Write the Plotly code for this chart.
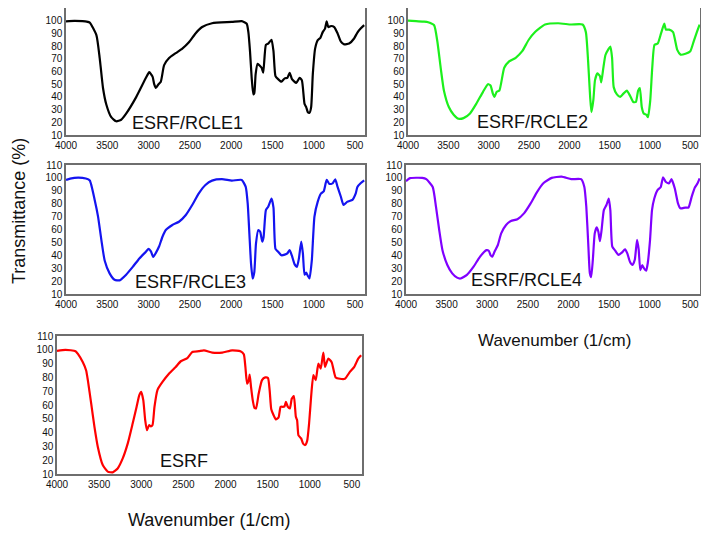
import plotly.graph_objects as go

# ---------------- data ----------------
wn_rcle1 = [4000, 3900, 3800, 3750, 3712, 3632, 3592, 3552, 3512, 3452, 3392, 3332, 3272, 3152, 3032, 2992,
            2952, 2932, 2912, 2880, 2852, 2812, 2752, 2672, 2592, 2512, 2432, 2352, 2232, 1992, 1872, 1812,
            1792, 1772, 1752, 1732, 1720, 1704, 1680, 1632, 1612, 1580, 1552, 1512, 1488, 1464, 1432, 1392,
            1352, 1320, 1292, 1264, 1212, 1172, 1144, 1112, 1092, 1072, 1052, 1032, 1012, 984, 952, 920,
            892, 864, 844, 824, 792, 752, 712, 672, 632, 572, 512, 472, 430, 390]
t_rcle1 = [99.5, 99.8, 99.6, 99.3, 98.5, 88.6, 70.6, 47, 34, 24, 20.8, 22, 26.8, 39.6, 55, 59.5,
           56, 50, 47, 50, 52, 65, 70.6, 74.4, 78, 83, 90, 95, 98, 99, 99.7, 97.6,
           91, 75.7, 55, 42, 43, 58, 66, 63, 59, 81, 82, 85, 76, 56.4, 54, 52,
           54.6, 55, 59, 54, 51, 55, 53, 34.5, 32, 28, 27.5, 32, 57.7, 78, 84.7, 86.5,
           91, 93.8, 99.4, 95, 95.8, 95, 90, 83.5, 81.4, 82, 86, 90.7, 94, 96.5]

wn_rcle2 = [4000, 3900, 3800, 3750, 3676, 3636, 3595, 3555, 3494, 3434, 3373, 3312, 3231, 3150, 3070, 3009,
            2977, 2948, 2928, 2900, 2867, 2807, 2746, 2665, 2584, 2503, 2422, 2301, 2139, 1977, 1836, 1795,
            1767, 1742, 1726, 1702, 1682, 1653, 1621, 1604, 1580, 1552, 1511, 1491, 1470, 1450, 1410, 1369,
            1329, 1288, 1248, 1207, 1175, 1147, 1126, 1102, 1078, 1045, 1025, 997, 972, 944, 904, 863,
            823, 803, 762, 714, 662, 621, 560, 500, 459, 419, 385]
t_rcle2 = [100, 99.6, 99.3, 98.8, 96.4, 83.6, 63, 45, 32, 26, 22.8, 23.3, 27, 35, 44, 50,
           49, 42.6, 40, 44, 45, 63, 68, 70.8, 76, 85, 91.3, 97, 98, 97, 97, 91,
           68, 40, 28, 37.6, 53, 58.5, 56.5, 51.5, 62, 73, 78, 79.7, 70.8, 47.7, 42, 40,
           42.6, 45, 41, 36, 36, 45, 47, 32, 27, 26, 24, 37, 63, 81, 82, 90,
           97.7, 93, 93, 91, 77, 73.3, 74, 76, 83.6, 91, 97]

wn_rcle3 = [4000, 3950, 3850, 3760, 3712, 3652, 3612, 3572, 3532, 3472, 3412, 3352, 3272, 3192, 3112, 3032,
            3000, 2972, 2944, 2912, 2872, 2832, 2792, 2712, 2632, 2552, 2472, 2392, 2312, 2232, 2112, 1992,
            1872, 1824, 1800, 1780, 1760, 1740, 1720, 1700, 1672, 1648, 1624, 1608, 1580, 1552, 1512, 1488,
            1464, 1432, 1392, 1352, 1320, 1292, 1264, 1232, 1204, 1180, 1152, 1132, 1112, 1092, 1072, 1052,
            1024, 992, 952, 912, 880, 844, 812, 772, 740, 712, 672, 640, 592, 532, 492, 472, 430, 390]
t_rcle3 = [98.5, 99.5, 100.2, 99.5, 98, 82.7, 70, 52, 36, 26, 21, 20.6, 25, 31, 37.6, 42.8,
           45, 43, 38.8, 41.9, 47, 54.4, 59.6, 63.5, 66, 71, 79, 88, 94.5, 97.9, 99, 97.9,
           98.4, 93, 80, 57, 33.8, 22, 27, 49, 59.6, 58, 50.6, 54, 75, 77.7, 84, 77,
           45, 42.8, 40, 40.5, 41.5, 44, 39.5, 33, 31, 37.6, 50.6, 41.5, 25, 26.6, 24, 22,
           36, 70, 81.6, 88, 89.5, 98.4, 95.3, 95.8, 98.9, 93, 85.4, 79, 81.6, 83, 88, 93, 96, 98]

wn_rcle4 = [4000, 3950, 3800, 3750, 3671, 3631, 3591, 3551, 3491, 3431, 3371, 3330, 3250, 3170, 3090, 3009,
            2981, 2957, 2937, 2909, 2869, 2828, 2768, 2708, 2628, 2547, 2467, 2387, 2306, 2206, 2085, 1965,
            1844, 1804, 1780, 1756, 1736, 1720, 1700, 1676, 1652, 1632, 1612, 1592, 1564, 1532, 1504, 1484,
            1460, 1424, 1384, 1343, 1303, 1275, 1243, 1211, 1183, 1155, 1135, 1115, 1091, 1071, 1043, 1023,
            995, 971, 943, 903, 863, 835, 803, 763, 731, 691, 650, 622, 562, 522, 482, 442, 410, 385]
t_rcle4 = [97.5, 99.8, 100, 99, 93, 77.7, 59.6, 44, 32.5, 26, 22.7, 22, 24.8, 31, 38.8, 44,
           43.5, 39.9, 39, 43, 48, 57, 63.5, 66.6, 68, 72.5, 80, 89, 96, 100, 101, 99,
           99, 93, 77.7, 49, 26, 23, 36, 57, 61.7, 58.5, 51, 59.5, 75, 79, 84, 75,
           46.7, 43.6, 40.3, 42, 44.6, 41.5, 35, 32.5, 36.5, 52, 44.5, 28.5, 32.5, 30, 28, 34,
           52, 75, 84, 90.6, 93, 100.4, 97, 95.8, 99, 92, 80, 76.4, 77, 77, 85.5, 92.7, 95.8, 99.7]

wn_esrf = [4000, 3900, 3780, 3752, 3693, 3654, 3634, 3594, 3555, 3516, 3457, 3398, 3339, 3280, 3220, 3161,
           3102, 3055, 3024, 3000, 2976, 2953, 2933, 2906, 2886, 2866, 2843, 2807, 2748, 2669, 2591, 2531,
           2453, 2394, 2315, 2256, 2157, 2039, 1921, 1823, 1783, 1764, 1744, 1724, 1713, 1697, 1677, 1657,
           1638, 1606, 1567, 1528, 1496, 1476, 1457, 1429, 1402, 1370, 1346, 1323, 1299, 1283, 1260, 1236,
           1213, 1189, 1165, 1150, 1134, 1102, 1079, 1055, 1031, 1008, 984, 957, 929, 898, 870, 839,
           819, 780, 740, 693, 642, 583, 524, 472, 425, 390]
t_esrf = [99.2, 100, 99, 97, 91, 85, 78, 61, 44, 29.8, 16.5, 11.7, 11.2, 14, 21.3, 32,
          46.6, 58.7, 67, 69.5, 63.5, 49, 41.8, 45.5, 44.5, 45.5, 58.7, 71, 76.7, 82.8, 87.6, 91.7,
          94, 98.4, 99, 99.6, 98, 98, 99.6, 99, 96.7, 87.6, 75.5, 78, 82, 73, 63.5, 58,
          57.5, 68.3, 78, 80, 79.5, 70.6, 57, 52.6, 49.5, 51, 58.7, 58.7, 59, 62.3, 58.7, 57.5,
          64.7, 66.4, 51.4, 49, 38, 35.8, 32, 31, 34, 46.6, 66, 81.6, 78, 90, 86.4, 98,
          87.6, 93.6, 91, 80, 79, 79, 84, 87.6, 93.6, 96]

labels = ["ESRF/RCLE1", "ESRF/RCLE2", "ESRF/RCLE3", "ESRF/RCLE4", "ESRF"]
colors = ["#000000", "#1cf01c", "#1414f0", "#8000ff", "#ff0000"]
series = [(wn_rcle1, t_rcle1), (wn_rcle2, t_rcle2), (wn_rcle3, t_rcle3),
          (wn_rcle4, t_rcle4), (wn_esrf, t_esrf)]
x_ticks = [4000, 3500, 3000, 2500, 2000, 1500, 1000, 500]
y_ticks = [10, 20, 30, 40, 50, 60, 70, 80, 90, 100, 110]

# ---------------- layout ----------------
# The page has an 8 px body margin; the figure is sized so the page fits the
# 709x538 window exactly (no scrollbars). Boxes are given in window pixels.
WIN_W, WIN_H = 709, 538
OFF = 8
W, H = WIN_W - 2 * OFF, WIN_H - 2 * OFF


def px(x):
    return min(1.0, max(0.0, (x - OFF) / W))


def py(y):
    return min(1.0, max(0.0, 1 - (y - OFF) / H))


boxes = [(66, 365, 8, 135), (408, 700, 8, 135), (66, 365, 165, 294),
         (406, 700, 165, 294), (57, 362, 336, 474)]
label_pos = [(188, 123), (532, 122), (190, 282), (526, 280), (184, 461)]

fig = go.Figure()
font_tick = dict(family="Liberation Sans, Arial, sans-serif", size=10, color="#111111")

for i, ((wn, t), col, box) in enumerate(zip(series, colors, boxes)):
    k = "" if i == 0 else str(i + 1)
    fig.add_trace(go.Scatter(x=wn, y=t, mode="lines", xaxis="x" + k, yaxis="y" + k,
                             line=dict(color=col, width=2.2, shape="spline", smoothing=0.5),
                             showlegend=False, hoverinfo="skip"))
    x0, x1, y0, y1 = box
    axcommon = dict(showgrid=False, zeroline=False, showline=True, mirror=True, automargin=False,
                    linecolor="#6e6e6e", linewidth=1.5, ticks="", tickfont=font_tick)
    fig.layout["xaxis" + k] = dict(axcommon, domain=[px(x0), px(x1)], range=[4000, 380],
                                   tickvals=x_ticks, anchor="y" + k)
    fig.layout["yaxis" + k] = dict(axcommon, domain=[py(y1), py(y0)], range=[10, 110],
                                   tickvals=y_ticks, anchor="x" + k)
    lx, ly = label_pos[i]
    fig.add_annotation(text=labels[i], x=px(lx), y=py(ly), xref="paper", yref="paper",
                       showarrow=False, xanchor="center", yanchor="middle",
                       font=dict(family="Liberation Sans, Arial, sans-serif", size=18, color="#111111"))

big = dict(family="Liberation Sans, Arial, sans-serif", size=18, color="#111111")
fig.add_annotation(text="Transmittance (%)", x=px(19), y=py(211), xref="paper", yref="paper",
                   showarrow=False, textangle=-90, xanchor="center", yanchor="middle", font=big)
fig.add_annotation(text="Wavenumber (1/cm)", x=px(554), y=py(340), xref="paper", yref="paper",
                   showarrow=False, xanchor="center", yanchor="middle", font=dict(big, size=17))
fig.add_annotation(text="Wavenumber (1/cm)", x=px(209), y=py(520), xref="paper", yref="paper",
                   showarrow=False, xanchor="center", yanchor="middle", font=big)

fig.update_layout(width=W, height=H, margin=dict(l=0, r=0, t=0, b=0),
                  paper_bgcolor="white", plot_bgcolor="white")
fig.write_html("out.html")
